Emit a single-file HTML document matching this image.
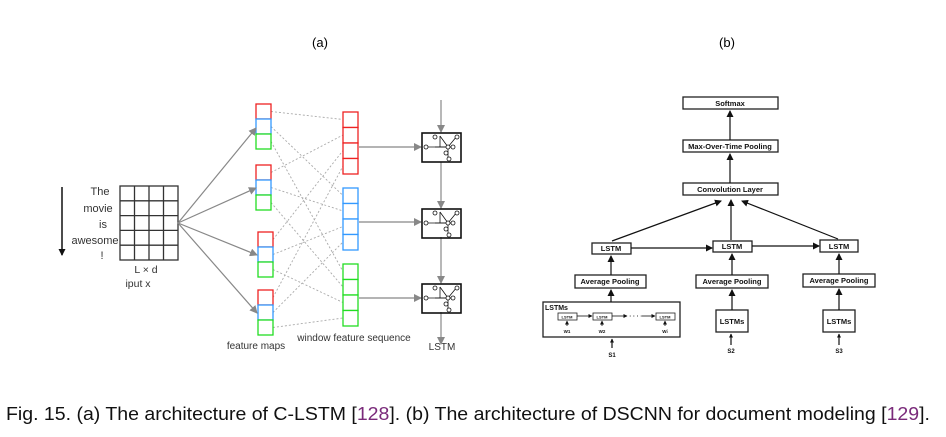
<!DOCTYPE html>
<html><head><meta charset="utf-8"><style>
html,body{margin:0;padding:0;background:#fff;width:946px;height:437px;overflow:hidden}
svg{display:block}
text{font-family:"Liberation Sans",Arial,sans-serif}
.cap{font-family:"Liberation Sans Narrow","Liberation Sans",sans-serif}
</style></head><body>
<svg id="s" width="946" height="437" viewBox="0 0 946 437" xmlns="http://www.w3.org/2000/svg">
<defs>
<marker id="ga" markerWidth="8" markerHeight="8" refX="7" refY="4" orient="auto" markerUnits="userSpaceOnUse"><path d="M0,0 L8,4 L0,8 z" fill="#888"/></marker>
<marker id="ka" markerWidth="7" markerHeight="7" refX="6" refY="3.5" orient="auto" markerUnits="userSpaceOnUse"><path d="M0,0 L7,3.5 L0,7 z" fill="#111"/></marker>
<marker id="ks" markerWidth="4" markerHeight="4" refX="3.5" refY="2" orient="auto" markerUnits="userSpaceOnUse"><path d="M0,0 L4,2 L0,4 z" fill="#111"/></marker>
</defs>
<text x="320" y="47" font-size="13" text-anchor="middle">(a)</text>
<text x="727" y="47" font-size="13" text-anchor="middle">(b)</text>

<!-- (a) -->
<line x1="62" y1="187" x2="62" y2="255" stroke="#111" stroke-width="1.5" marker-end="url(#ka)"/>
<g font-size="11" text-anchor="middle" fill="#333">
<text x="100" y="195">The</text><text x="98" y="212">movie</text><text x="103" y="228">is</text><text x="95" y="244">awesome</text><text x="102" y="259">!</text>
<text x="146" y="273" font-size="10.5">L × d</text><text x="138" y="287" font-size="10.5">iput x</text>
</g>
<g font-size="10" text-anchor="middle" fill="#333">
<text x="256" y="349">feature maps</text><text x="354" y="341">window feature sequence</text><text x="442" y="350">LSTM</text>
</g>
<g id="grid" stroke="#333" stroke-width="1.3" fill="none"></g>
<g id="dash" stroke="#aaa" stroke-width="0.9" stroke-dasharray="2,2" fill="none"></g>
<g id="cells" fill="#fff" stroke-width="1.3"></g>
<g stroke="#888" stroke-width="1.2" fill="none">
<line x1="178" y1="223" x2="256" y2="128" marker-end="url(#ga)"/>
<line x1="178" y1="223" x2="256" y2="188" marker-end="url(#ga)"/>
<line x1="178" y1="223" x2="257" y2="255" marker-end="url(#ga)"/>
<line x1="178" y1="223" x2="257" y2="313" marker-end="url(#ga)"/>
<line x1="359" y1="147" x2="421" y2="147" marker-end="url(#ga)"/>
<line x1="359" y1="222" x2="421" y2="222" marker-end="url(#ga)"/>
<line x1="359" y1="298" x2="421" y2="298" marker-end="url(#ga)"/>
<line x1="441" y1="100" x2="441" y2="132" marker-end="url(#ga)"/>
<line x1="441" y1="162" x2="441" y2="208" marker-end="url(#ga)"/>
<line x1="441" y1="237" x2="441" y2="283" marker-end="url(#ga)"/>
<line x1="441" y1="312" x2="441" y2="344" marker-end="url(#ga)"/>
</g>
<g id="lstm" fill="none" stroke="#111"></g>

<!-- (b) -->
<g stroke="#222" stroke-width="1.3" fill="#fff">
<rect x="683" y="97" width="95" height="12"/>
<rect x="683" y="140" width="95" height="12"/>
<rect x="683" y="183" width="95" height="12"/>
<rect x="592" y="243" width="39" height="11"/>
<rect x="713" y="241" width="39" height="11"/>
<rect x="820" y="240" width="38" height="12"/>
<rect x="575" y="275" width="71" height="13"/>
<rect x="696" y="275" width="72" height="13"/>
<rect x="803" y="274" width="72" height="13"/>
<rect x="543" y="302" width="137" height="35"/>
<rect x="716" y="310" width="32" height="22"/>
<rect x="823" y="310" width="32" height="22"/>
<rect x="558" y="313" width="19" height="7" stroke-width="0.8"/>
<rect x="593" y="313" width="19" height="7" stroke-width="0.8"/>
<rect x="656" y="313" width="19" height="7" stroke-width="0.8"/>
</g>
<g stroke="#111" stroke-width="1.2" fill="none">
<line x1="730" y1="140" x2="730" y2="111" marker-end="url(#ka)"/>
<line x1="730" y1="183" x2="730" y2="154" marker-end="url(#ka)"/>
<line x1="612" y1="241" x2="721" y2="201" marker-end="url(#ka)"/>
<line x1="731" y1="240" x2="731" y2="200" marker-end="url(#ka)"/>
<line x1="838" y1="239" x2="742" y2="201" marker-end="url(#ka)"/>
<line x1="631" y1="248" x2="712" y2="248" marker-end="url(#ka)"/>
<line x1="752" y1="246" x2="819" y2="246" marker-end="url(#ka)"/>
<line x1="611" y1="275" x2="611" y2="256" marker-end="url(#ka)"/>
<line x1="732" y1="275" x2="732" y2="254" marker-end="url(#ka)"/>
<line x1="839" y1="274" x2="839" y2="254" marker-end="url(#ka)"/>
<line x1="611" y1="302" x2="611" y2="290" marker-end="url(#ka)"/>
<line x1="732" y1="310" x2="732" y2="290" marker-end="url(#ka)"/>
<line x1="839" y1="310" x2="839" y2="289" marker-end="url(#ka)"/>
<line x1="612" y1="348" x2="612" y2="339" marker-end="url(#ks)"/>
<line x1="731" y1="345" x2="731" y2="334" marker-end="url(#ks)"/>
<line x1="839" y1="345" x2="839" y2="334" marker-end="url(#ks)"/>
</g>
<g stroke="#111" stroke-width="0.8" fill="none">
<line x1="577" y1="316" x2="592" y2="316" marker-end="url(#ks)"/>
<line x1="612" y1="316" x2="627" y2="316" marker-end="url(#ks)"/>
<line x1="642" y1="316" x2="655" y2="316" marker-end="url(#ks)"/>
<line x1="567" y1="326" x2="567" y2="321" marker-end="url(#ks)"/>
<line x1="602" y1="326" x2="602" y2="321" marker-end="url(#ks)"/>
<line x1="665" y1="326" x2="665" y2="321" marker-end="url(#ks)"/>
</g>
<g font-weight="bold" text-anchor="middle" fill="#111">
<text x="730" y="106" font-size="7.5">Softmax</text>
<text x="730" y="149" font-size="7.5">Max-Over-Time Pooling</text>
<text x="730" y="192" font-size="7.5">Convolution Layer</text>
<text x="611" y="251" font-size="7.5">LSTM</text>
<text x="732" y="249" font-size="7.5">LSTM</text>
<text x="839" y="249" font-size="7.5">LSTM</text>
<text x="610" y="284" font-size="7.5">Average Pooling</text>
<text x="732" y="284" font-size="7.5">Average Pooling</text>
<text x="839" y="283" font-size="7.5">Average Pooling</text>
<text x="732" y="324" font-size="7.5">LSTMs</text>
<text x="839" y="324" font-size="7.5">LSTMs</text>
<text x="545" y="310" font-size="7" text-anchor="start">LSTMs</text>
<text x="567" y="318.5" font-size="4">LSTM</text>
<text x="602" y="318.5" font-size="4">LSTM</text>
<text x="665" y="318.5" font-size="4">LSTM</text>
<text x="634" y="318" font-size="6">· · · · ·</text>
<text x="567" y="333" font-size="4.5">W1</text>
<text x="602" y="333" font-size="4.5">W2</text>
<text x="665" y="333" font-size="4.5">Wi</text>
<text x="612" y="357" font-size="6">S1</text>
<text x="731" y="353" font-size="6">S2</text>
<text x="839" y="353" font-size="6">S3</text>
</g>

<text class="cap" x="6" y="420" font-size="18" fill="#111" textLength="924" lengthAdjust="spacingAndGlyphs">Fig. 15.  (a) The architecture of C-LSTM [<tspan fill="#7a2a7a">128</tspan>]. (b) The architecture of DSCNN for document modeling [<tspan fill="#7a2a7a">129</tspan>].</text>
</svg>
<script>
var NS="http://www.w3.org/2000/svg";
function el(p,t,a){var e=document.createElementNS(NS,t);for(var k in a)e.setAttribute(k,a[k]);document.getElementById(p).appendChild(e);return e;}
el("grid","rect",{x:120,y:186,width:58,height:74});
for(var i=1;i<4;i++)el("grid","line",{x1:120+i*14.5,y1:186,x2:120+i*14.5,y2:260});
for(var j=1;j<5;j++)el("grid","line",{x1:120,y1:186+j*14.8,x2:178,y2:186+j*14.8});
var cols=["#ee2222","#3399ff","#22dd22"];
var fm=[[256,104],[256,165],[258,232],[258,290]];
var win=[[343,112],[343,188],[343,264]];
for(var g=0;g<4;g++)for(var c=0;c<3;c++){
 var y1=fm[g][1]+c*15+7.5, y2=win[c][1]+g*15.5+7.5;
 el("dash","line",{x1:fm[g][0]+15,y1:y1,x2:343,y2:y2});
}
for(var g=0;g<4;g++)for(var c=0;c<3;c++)el("cells","rect",{x:fm[g][0],y:fm[g][1]+c*15,width:15,height:15,stroke:cols[c]});
for(var c=0;c<3;c++)for(var k=0;k<4;k++)el("cells","rect",{x:343,y:win[c][1]+k*15.5,width:15,height:15.5,stroke:cols[c]});
[133,209,284].forEach(function(y){
 var x=422;
 el("lstm","rect",{x:x,y:y,width:39,height:29,"stroke-width":1.6});
 var g={"stroke-width":0.8};
 [[4,14,31,14],[18,3,18,14],[18,3,26,14],[26,14,35,3],[26,14,26,24],[13,14,26,14]].forEach(function(l){var o=Object.assign({x1:x+l[0],y1:y+l[1],x2:x+l[2],y2:y+l[3]},g);el("lstm","line",o);});
 [[4,14],[13,4],[26,14],[31,14],[35,4],[24,20],[27,26]].forEach(function(p){el("lstm","circle",{cx:x+p[0],cy:y+p[1],r:2,fill:"#fff","stroke-width":0.8});});
});
</script>
</body></html>
